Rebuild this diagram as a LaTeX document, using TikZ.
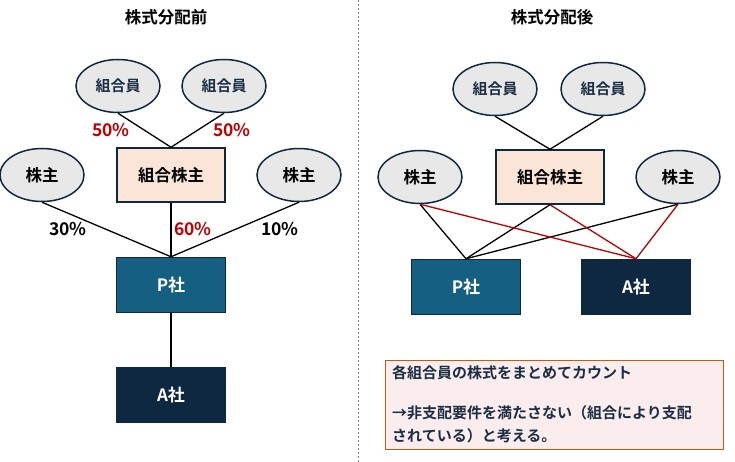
\documentclass[tikz,border=0pt]{standalone}
\usepackage{fontspec}
\setmainfont{Noto Sans CJK JP}[BoldFont={* Bold}]
\usetikzlibrary{shapes.geometric}

\definecolor{navy}{HTML}{0E2841}
\definecolor{teal}{HTML}{156082}
\definecolor{peach}{HTML}{FBE5D6}
\definecolor{lgray}{HTML}{E8E8E8}
\definecolor{redtxt}{HTML}{C00000}
\definecolor{rose}{HTML}{FBEDED}
\definecolor{rust}{HTML}{C55A11}
\definecolor{ink}{HTML}{1A2E44}

\tikzset{
  member/.style={ellipse, draw=navy, line width=1.5pt, fill=lgray, minimum width=84pt,
    minimum height=53pt, inner sep=0pt, font=\bfseries\fontsize{15}{17}\selectfont, text=ink},
  holder/.style={member, text=black, font=\bfseries\fontsize{16.5}{18}\selectfont},
  union/.style={rectangle, draw=navy, line width=1.5pt, fill=peach, minimum width=108pt,
    minimum height=54pt, font=\bfseries\fontsize{16.5}{18}\selectfont},
  firm/.style={rectangle, draw=navy, line width=1.5pt, minimum width=109pt, minimum height=55pt,
    text=white, font=\bfseries\fontsize{17}{19}\selectfont},
  pct/.style={font=\bfseries\fontsize{17.5}{19}\selectfont},
  heading/.style={font=\bfseries\fontsize{16.5}{18}\selectfont},
  link/.style={line width=1.3pt},
  redlink/.style={line width=1.3pt, draw=redtxt}
}

\begin{document}
\begin{tikzpicture}[x=1pt, y=-1pt]
    \useasboundingbox (0,0) rectangle (735,462);
    % divider
    \draw[gray, dash pattern=on 2pt off 2pt] (358,0) -- (358,462);

    % before
    \node[heading] (t1) at (166,17) {株式分配前};
    \node[member] (m1) at (118,86) {組合員};
    \node[member] (m2) at (224,86) {組合員};
    \node[union] (u1) at (171,175) {組合株主};
    \node[holder] (h1) at (42,175) {株主};
    \node[holder] (h2) at (299,175) {株主};
    \node[firm, fill=teal] (p1) at (171,285) {P社};
    \node[firm, fill=navy] (a1) at (171,395) {A社};
    \draw[link] (m1.south) -- (u1.north);
    \draw[link] (m2.south) -- (u1.north);
    \draw[link] (h1.south) -- (p1.north);
    \draw[link] (u1.south) -- (p1.north);
    \draw[link] (h2.south) -- (p1.north);
    \draw[link] (p1.south) -- (a1.north);
    \node[pct, text=redtxt] (l1) at (111,130) {50\%};
    \node[pct, text=redtxt] (l2) at (232,130) {50\%};
    \node[pct] (l3) at (68,229) {30\%};
    \node[pct, text=redtxt] (l4) at (193,229) {60\%};
    \node[pct] (l5) at (280,229) {10\%};

    % after
    \node[heading] (t2) at (552,17) {株式分配後};
    \node[member] (m3) at (495,89) {組合員};
    \node[member] (m4) at (603,89) {組合員};
    \node[union] (u2) at (550,177) {組合株主};
    \node[holder] (h3) at (420,177) {株主};
    \node[holder] (h4) at (678,177) {株主};
    \node[firm, fill=teal] (p2) at (466,287) {P社};
    \node[firm, fill=navy] (a2) at (636,287) {A社};
    \draw[link] (m3.south) -- (u2.north);
    \draw[link] (m4.south) -- (u2.north);
    \draw[link] (h3.south) -- (p2.north);
    \draw[link] (u2.south) -- (p2.north);
    \draw[link] (h4.south) -- (p2.north);
    \draw[redlink] (h3.south) -- (a2.north);
    \draw[redlink] (u2.south) -- (a2.north);
    \draw[redlink] (h4.south) -- (a2.north);

    % note
    \node[draw=rust, fill=rose, line width=1pt, minimum width=338pt, minimum height=89pt,
      anchor=north west, inner sep=0pt] (note) at (385,360) {};
    \node[anchor=north west, text=ink, align=left, inner sep=0pt,
      font=\bfseries\fontsize{15}{23}\selectfont] (notetxt) at (392,365)
      {各組合員の株式をまとめてカウント\\[-6pt] \\ →非支配要件を満たさない（組合により支配\\されている）と考える。};
  \end{tikzpicture}
\end{document}
